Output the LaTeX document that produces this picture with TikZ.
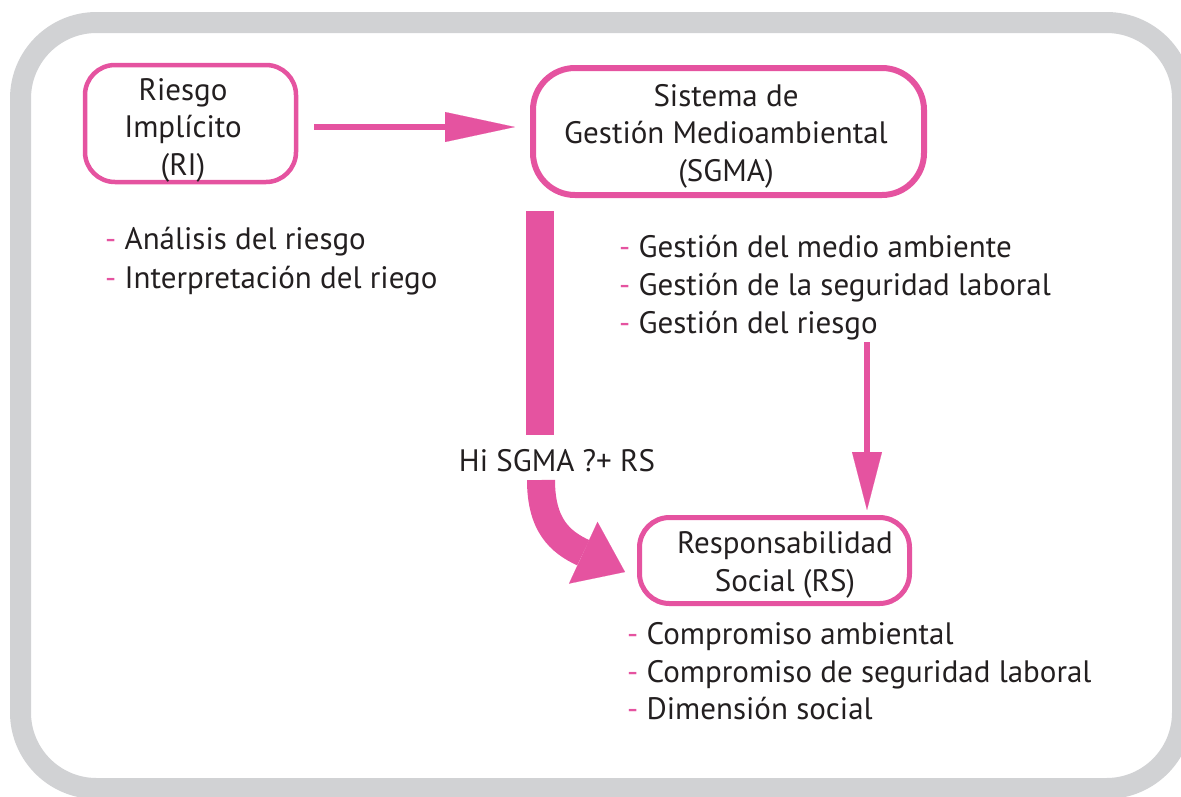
\documentclass[tikz,border=0pt]{standalone}
\usepackage{fontspec}
\setmainfont{PT Sans}
\usetikzlibrary{arrows.meta}
\definecolor{pk}{RGB}{229,83,160}
\definecolor{fr}{RGB}{209,210,212}
\definecolor{tx}{RGB}{35,31,32}
\tikzset{
  txt/.style={text=tx, font=\fontsize{31}{37.5}\selectfont, inner sep=0pt},
  boxed/.style={draw=pk, rectangle, inner sep=0pt},
  item/.style={txt, anchor=base west},
  thinarrow/.style={draw=pk, line width=6pt, -{Triangle[length=#1,width=30pt,line width=0.1pt]}},
}
\newcommand{\pd}{{\color{pk}-} }
\begin{document}
\begin{tikzpicture}[x=1pt,y=-1pt]
\useasboundingbox (0,0) rectangle (1181,796);
\begin{scope}
\clip (0,0) rectangle (1181,796);
\draw[fr, line width=21pt, rounded corners=76pt] (20.5,22.5) rectangle (1182.5,788.5);
\end{scope}

% boxes
\node[boxed, line width=4.5pt, rounded corners=30pt, minimum width=211pt, minimum height=117pt] (ri) at (190.5,123.5) {};
\node[boxed, line width=6pt, rounded corners=42pt, minimum width=391pt, minimum height=127pt] (sgma) at (728.5,131.5) {};
\node[boxed, line width=5pt, rounded corners=30pt, minimum width=270pt, minimum height=86pt] (rs) at (774.5,560.5) {};

% box texts
\node[txt, align=center] (ritxt) at (183,130) {Riesgo\\Implícito\\(RI)};
\node[txt, align=center] (sgtxt) at (726,136) {Sistema de\\Gestión Medioambiental\\(SGMA)};
\node[txt, align=center] (rstxt) at (785,565) {Responsabilidad\\Social (RS)};

% lists
\node[item] (l1) at (105,249) {\pd Análisis del riesgo};
\node[item] (l2) at (105,288) {\pd Interpretación del riego};
\node[item] (s1) at (619,257) {\pd Gestión del medio ambiente};
\node[item] (s2) at (619,295) {\pd Gestión de la seguridad laboral};
\node[item] (s3) at (619,333) {\pd Gestión del riesgo};
\node[item] (r1) at (627,644) {\pd Compromiso ambiental};
\node[item] (r2) at (627,682) {\pd Compromiso de seguridad laboral};
\node[item] (r3) at (627,719) {\pd Dimensión social};

\node[txt, anchor=base] (lbl) at (557,471) {Hi SGMA ?+ RS};

% connectors
\draw[thinarrow=70pt, shorten <=15.75pt, shorten >=15pt]
  ([yshift=-3.5pt]ri.east) -- ([yshift=4.5pt]sgma.west);

\coordinate (barA) at (540,211);
\coordinate (barB) at (540,435);
\draw[pk, line width=28pt] (barA) -- (barB);

\coordinate (curA) at (541,480);
\coordinate (curB) at (625,572);
\draw[pk, line width=28pt, -{Triangle[length=46pt,width=68pt,line width=0.1pt]}]
  (curA) .. controls (541,525) and (560,542) .. (curB);

\coordinate (dwA) at (867,342);
\draw[thinarrow=58pt, line width=6.5pt, shorten >=5pt] (dwA) -- ([xshift=92.5pt]rs.north);
\end{tikzpicture}
\end{document}
